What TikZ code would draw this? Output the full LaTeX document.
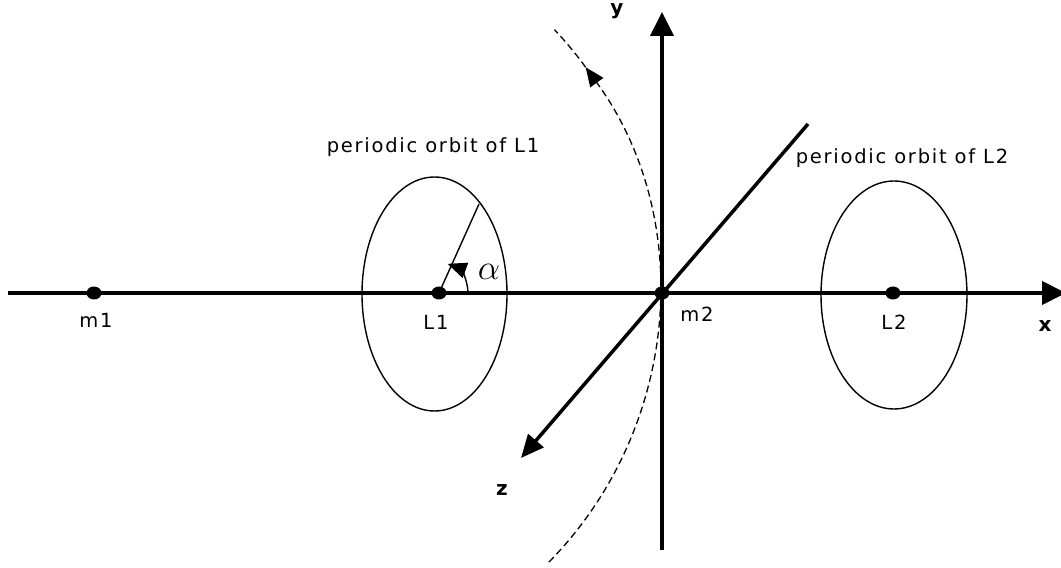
\documentclass[tikz,border=0pt]{standalone}
\usepackage{fontspec}
\setmainfont{DejaVu Sans}[LetterSpace=9]
\usetikzlibrary{arrows.meta,positioning,shapes.geometric}

\begin{document}
\begin{tikzpicture}[x=1pt,y=1pt,>=Triangle,font=\fontsize{19.5}{22}\selectfont,
axis/.style={line width=4pt,-{Triangle[length=24pt,width=23pt]}},
dot/.style={fill,ellipse,inner sep=0pt,minimum width=15pt,minimum height=13pt},
orbit/.style={line width=1.4pt},
lbl/.style={anchor=base,inner sep=0pt},
axlbl/.style={anchor=base,inner sep=0pt,font=\fontsize{20}{22}\selectfont\bfseries}]
\useasboundingbox (0,0) rectangle (1061,568);
% axes
\coordinate (xs) at (8,275); \coordinate (xe) at (1066,275);
\coordinate (ys) at (662,18); \coordinate (ye) at (662,556);
\coordinate (zs) at (808,444); \coordinate (ze) at (521,110);
\draw[axis] (xs)--(xe);
\draw[axis] (ys)--(ye);
\draw[line width=3.5pt,-{Triangle[length=23pt,width=20pt]}] (zs)--(ze);
\node[axlbl] (xl) at (1045,236) {x};
\node[axlbl] (yl) at (617,553) {y};
\node[axlbl] (zl) at (502,72) {z};
% orbits
\draw[orbit] (434.5,274) ellipse [x radius=72.5,y radius=117];
\draw[orbit] (894,273) ellipse [x radius=73,y radius=114];
\node[lbl] (po1) at (433,415) {periodic orbit of L1};
\node[lbl] (po2) at (902,404) {periodic orbit of L2};
% bodies and points
\node[dot] (m1) at (94,275) {};
\node[dot] (L1) at (439,275) {};
\node[dot] (m2) at (662,275) {};
\node[dot] (L2) at (893,275) {};
\node[lbl] (m1l) at (96,240) {m1};
\node[lbl] (L1l) at (436,238) {L1};
\node[lbl] (m2l) at (697,246) {m2};
\node[lbl] (L2l) at (894,238) {L2};
% angle alpha
\coordinate (rim) at (479,364);
\draw[line width=1.4pt] (L1.center)--(rim);
\draw[line width=1.4pt,-{Triangle[length=19pt,width=16pt]}] (468,275) arc[start angle=0,end angle=70,radius=31];
\node[scale=1.7] (al) at (489,296) {$\alpha$};
% rotation of m2
\coordinate (c) at (275,275);
\draw[line width=1.3pt,dash pattern=on 7pt off 4pt,-{Triangle[length=19pt,width=16pt]}]
  ([shift={(-44.5:384)}]c) arc[start angle=-44.5,end angle=36,radius=384];
\draw[line width=1.3pt,dash pattern=on 7pt off 4pt]
  ([shift={(36:384)}]c) arc[start angle=36,end angle=43.3,radius=384];
\end{tikzpicture}
\end{document}
